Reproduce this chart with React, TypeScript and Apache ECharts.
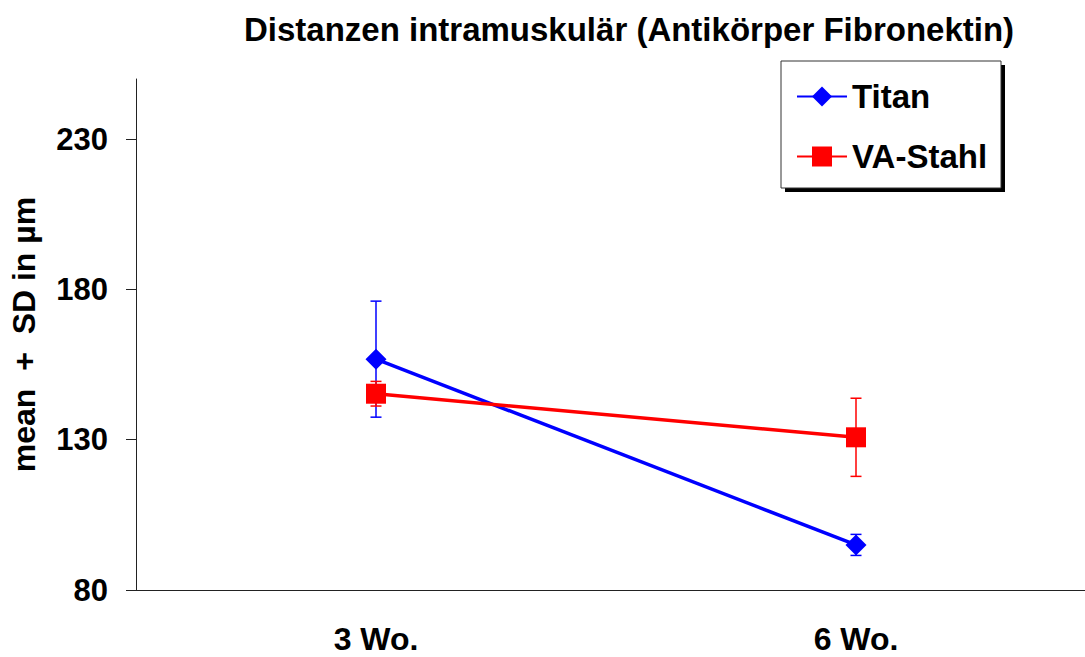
import React, { useEffect, useRef } from "react";
import * as echarts from "echarts";

const categories = ["3 Wo.", "6 Wo."];
const titanMean = [156.8, 95.0];
const titanSD = [19.3, 3.5];
const stahlMean = [145.3, 130.8];
const stahlSD = [4.1, 13.0];
const yTickValues = [80, 130, 180, 230];

const FONT = "'Liberation Sans', Arial, sans-serif";
const BLUE = "#0000FF";
const RED = "#FF0000";

function errorSeries(name: string, means: number[], sds: number[], color: string) {
  return {
    type: "custom",
    name,
    silent: true,
    z: 1,
    encode: { x: 0, y: [1, 2] },
    data: means.map((m, i) => [i, m - sds[i], m + sds[i]]),
    renderItem: (_params: any, api: any) => {
      const x = api.value(0);
      const lo = api.coord([x, api.value(1)]);
      const hi = api.coord([x, api.value(2)]);
      const w = 5.5;
      const st = { stroke: color, lineWidth: 1.5 };
      return {
        type: "group",
        children: [
          { type: "line", shape: { x1: lo[0], y1: lo[1], x2: hi[0], y2: hi[1] }, style: st },
          { type: "line", shape: { x1: lo[0] - w, y1: lo[1], x2: lo[0] + w, y2: lo[1] }, style: st },
          { type: "line", shape: { x1: hi[0] - w, y1: hi[1], x2: hi[0] + w, y2: hi[1] }, style: st },
        ],
      };
    },
  };
}

export default function App() {
  const ref = useRef<HTMLDivElement>(null);
  useEffect(() => {
    if (!ref.current) return;
    const chart = echarts.init(ref.current, null, { renderer: "svg" });
    chart.setOption({
      animation: false,
      backgroundColor: "#ffffff",
      title: {
        text: "Distanzen intramuskulär (Antikörper Fibronektin)",
        left: 624,
        textAlign: "center",
        top: 8,
        textStyle: { fontFamily: FONT, fontWeight: "bold", fontSize: 33, color: "#000" },
      },
      grid: { left: 136, top: 79, width: 960, height: 511, outerBoundsMode: "none", containLabel: false },
      graphic: [
        { type: "rect", shape: { x: 785, y: 65, width: 220, height: 127 }, style: { fill: "#000" }, z: 0 },
        {
          type: "rect",
          shape: { x: 781, y: 61, width: 220, height: 127 },
          style: { fill: "#fff", stroke: "#333", lineWidth: 1 },
          z: 1,
        },
      ],
      legend: {
        orient: "vertical",
        left: 796,
        top: 80,
        padding: 0,
        itemWidth: 50,
        itemHeight: 25,
        itemGap: 27,
        data: ["Titan", "VA-Stahl"],
        textStyle: { fontFamily: FONT, fontWeight: "bold", fontSize: 33, color: "#000" },
        z: 10,
      },
      xAxis: {
        type: "category",
        data: categories,
        boundaryGap: true,
        axisLine: { lineStyle: { color: "#222", width: 1 } },
        axisTick: { show: false },
        axisLabel: {
          margin: 33,
          fontFamily: FONT,
          fontWeight: "bold",
          fontSize: 32,
          color: "#000",
        },
        splitLine: { show: false },
      },
      yAxis: {
        type: "value",
        min: 80,
        max: 250,
        name: "mean  +  SD in µm",
        nameLocation: "middle",
        nameGap: 96,
        nameTextStyle: { fontFamily: FONT, fontWeight: "bold", fontSize: 32, color: "#000" },
        axisLine: { show: true, lineStyle: { color: "#222", width: 1 } },
        axisTick: { show: true, length: 10, customValues: yTickValues, lineStyle: { color: "#222" } },
        axisLabel: {
          customValues: yTickValues,
          margin: 28,
          fontFamily: FONT,
          fontWeight: "bold",
          fontSize: 31,
          color: "#000",
        },
        splitLine: { show: false },
      },
      series: [
        errorSeries("Titan SD", titanMean, titanSD, BLUE),
        errorSeries("VA-Stahl SD", stahlMean, stahlSD, RED),
        {
          type: "line",
          name: "Titan",
          data: titanMean,
          symbol: "diamond",
          symbolSize: 21,
          z: 3,
          lineStyle: { color: BLUE, width: 3.5 },
          itemStyle: { color: BLUE },
        },
        {
          type: "line",
          name: "VA-Stahl",
          data: stahlMean,
          symbol: "rect",
          symbolSize: 20,
          z: 4,
          lineStyle: { color: RED, width: 3.5 },
          itemStyle: { color: RED },
        },
      ],
    });
    return () => chart.dispose();
  }, []);
  return (
    <div
      ref={ref}
      style={{ position: "fixed", left: 0, top: 0, width: 1085, height: 657, background: "#fff" }}
    />
  );
}
